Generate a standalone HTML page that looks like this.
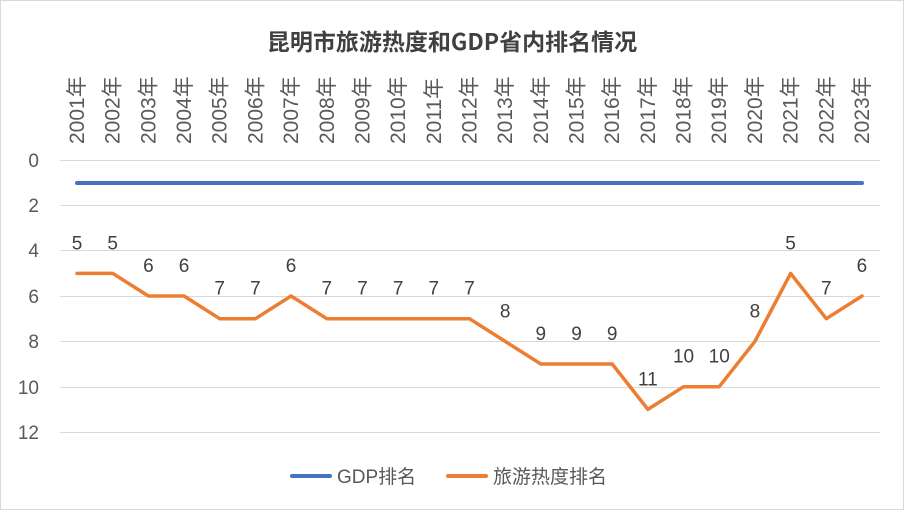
<!DOCTYPE html>
<html><head><meta charset="utf-8"><style>
html,body{margin:0;padding:0;background:#fff}
svg{display:block;font-family:"Liberation Sans","Noto Sans CJK SC",sans-serif}
</style></head><body>
<svg width="904" height="510" viewBox="0 0 904 510" xmlns="http://www.w3.org/2000/svg">
<rect x="0.5" y="0.5" width="903" height="509" fill="#fff" stroke="#d9d9d9"/>
<text x="452" y="50" text-anchor="middle" font-size="23" font-weight="bold" fill="#404040" font-family="'Noto Sans CJK SC',sans-serif">昆明市旅游热度和GDP省内排名情况</text>
<g stroke="#d9d9d9" stroke-width="1">
<line x1="60" x2="880" y1="160.5" y2="160.5"/>
<line x1="60" x2="880" y1="205.5" y2="205.5"/>
<line x1="60" x2="880" y1="250.5" y2="250.5"/>
<line x1="60" x2="880" y1="296.5" y2="296.5"/>
<line x1="60" x2="880" y1="341.5" y2="341.5"/>
<line x1="60" x2="880" y1="387.5" y2="387.5"/>
<line x1="60" x2="880" y1="432.5" y2="432.5"/>
</g>
<g font-size="19" fill="#595959" text-anchor="end">
<text x="39" y="167">0</text><text x="39" y="212">2</text><text x="39" y="257">4</text><text x="39" y="303">6</text><text x="39" y="348">8</text><text x="39" y="394">10</text><text x="39" y="439">12</text>
</g>
<g id="xl" font-size="21" fill="#595959" font-family="'Liberation Sans','Noto Sans CJK SC',sans-serif"></g>
<line x1="77" x2="862" y1="183" y2="183" stroke="#4472c4" stroke-width="4" stroke-linecap="round"/>
<polyline id="ol" fill="none" stroke="#ed7d31" stroke-width="3.5" stroke-linejoin="round" stroke-linecap="round"/>
<g id="dl" font-size="19" fill="#404040" text-anchor="middle"></g>
<line x1="292" x2="330" y1="476" y2="476" stroke="#4472c4" stroke-width="4" stroke-linecap="round"/>
<text x="337" y="483" font-size="19" fill="#595959">GDP排名</text>
<line x1="448" x2="486" y1="476" y2="476" stroke="#ed7d31" stroke-width="4" stroke-linecap="round"/>
<text x="493" y="483" font-size="19" fill="#595959">旅游热度排名</text>
<script>
var v=[5,5,6,6,7,7,6,7,7,7,7,7,8,9,9,9,11,10,10,8,5,7,6];
var ns="http://www.w3.org/2000/svg",pts=[],xl=document.getElementById('xl'),dl=document.getElementById('dl');
for(var i=0;i<23;i++){var x=77+i*35.68,y=160+v[i]*22.67;pts.push(x.toFixed(1)+","+y.toFixed(1));
var t=document.createElementNS(ns,'text');t.setAttribute('transform','translate('+(x+7)+',144) rotate(-90)');t.textContent=(2001+i)+'年';xl.appendChild(t);
var d=document.createElementNS(ns,'text');d.setAttribute('x',x);d.setAttribute('y',y-24);d.textContent=v[i];dl.appendChild(d);}
document.getElementById('ol').setAttribute('points',pts.join(' '));
</script>
</svg>
</body></html>
